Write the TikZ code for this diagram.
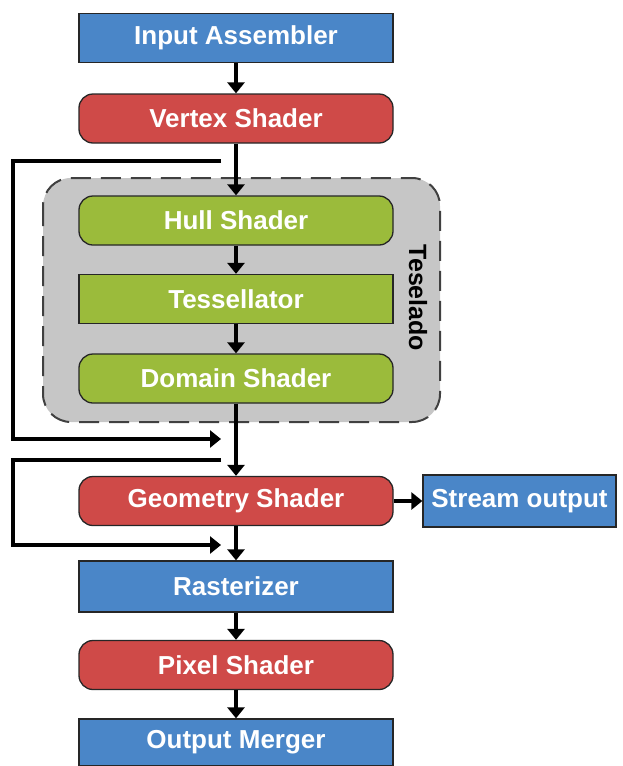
\documentclass[tikz,border=0pt]{standalone}
\usepackage{fontspec}
\setmainfont{Liberation Sans}
\usetikzlibrary{arrows.meta}
\definecolor{myblue}{HTML}{4A86C8}
\definecolor{myred}{HTML}{CF4A48}
\definecolor{mygreen}{HTML}{9BBB3B}
\definecolor{mygray}{HTML}{C6C6C6}
\tikzset{
  box/.style={draw=black!85, line width=1.3pt, minimum width=314pt, minimum height=49pt,
    font=\bfseries\fontsize{26}{26}\selectfont, text=white, inner sep=0pt},
  bluebox/.style={box, fill=myblue},
  redbox/.style={box, fill=myred, rounded corners=14pt},
  greenbox/.style={box, fill=mygreen, rounded corners=14pt},
  greenrect/.style={box, fill=mygreen},
  flow/.style={line width=4.5pt, -{Triangle[width=17pt,length=11pt]}},
  region/.style={draw=black!75, fill=mygray, line width=2pt, dash pattern=on 20pt off 10pt, rounded corners=28pt},
}
\begin{document}
\begin{tikzpicture}[x=1pt,y=-1pt]
\useasboundingbox (0,0) rectangle (622,766);
\draw[region] (43,178) rectangle (440,422);
\node[font=\bfseries\fontsize{25}{25}\selectfont, rotate=-90] (tl) at (418,298) {Teselado};
\node[bluebox] (ia) at (236,38) {Input Assembler};
\node[redbox] (vs) at (236,118.5) {Vertex Shader};
\node[greenbox] (hs) at (236,220.5) {Hull Shader};
\node[greenrect] (ts) at (236,299) {Tessellator};
\node[greenbox] (ds) at (236,378.5) {Domain Shader};
\node[redbox] (gs) at (236,501) {Geometry Shader};
\node[bluebox, minimum width=193pt, minimum height=52pt] (so) at (519.5,501) {Stream output};
\node[bluebox, minimum height=51pt] (rs) at (236,586.5) {Rasterizer};
\node[redbox] (ps) at (236,665) {Pixel Shader};
\node[bluebox, minimum height=47pt] (om) at (236,742.5) {Output Merger};
\draw[flow] (ia) -- (vs);
\draw[flow] (vs) -- (hs);
\draw[flow] (hs) -- (ts);
\draw[flow] (ts) -- (ds);
\draw[flow] (ds) -- (gs);
\draw[flow] (gs) -- (rs);
\draw[flow] (rs) -- (ps);
\draw[flow] (ps) -- (om);
\draw[flow] (gs) -- (so);
\coordinate (l1s) at (221,161);
\coordinate (l1e) at (221,439);
\coordinate (l2s) at (221,460);
\coordinate (l2e) at (221,545);
\draw[flow] (l1s) -- (13,161) |- (l1e);
\draw[flow] (l2s) -- (13,460) |- (l2e);
\end{tikzpicture}
\end{document}
